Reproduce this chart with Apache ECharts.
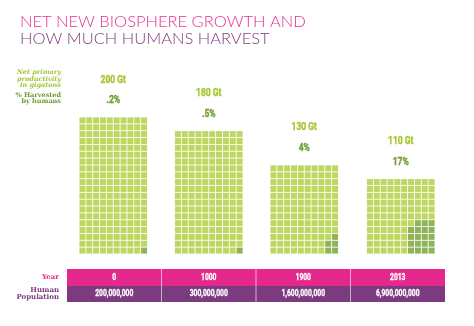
<!DOCTYPE html>
<html>
<head>
<meta charset="utf-8">
<script src="https://cdn.jsdelivr.net/npm/echarts@6/dist/echarts.min.js"></script>
<style>
html,body{margin:0;padding:0;background:#fff;}
#chart{width:474px;height:326px;}
</style>
</head>
<body>
<div id="chart"></div>
<script>
// ---- data ----
const periods = ['0', '1000', '1900', '2013'];
const nppGt = [200, 180, 130, 110];               // net primary productivity, gigatons
const nppLabels = ['200 Gt', '180 Gt', '130 Gt', '110 Gt'];
const harvestedPct = [0.2, 0.5, 4, 17];           // % harvested by humans
const pctLabels = ['.2%', '.5%', '4%', '17%'];
const population = ['200,000,000', '300,000,000', '1,600,000,000', '6,900,000,000'];
const titleLines = ['NET NEW BIOSPHERE GROWTH AND', 'HOW MUCH HUMANS HARVEST'];

// ---- style / layout ----
const LIGHT = '#aecd3a', DARK = '#72a030';
const MAGENTA = '#e5288b', PURPLE = '#7c3a80';
const COLS = 10;                 // cells per row (1 cell = 1 Gt)
const gridLefts = [79, 174.5, 270, 366.5];
const gridTop = 117, gridH = 137, gridW = 68.5;
const maxRows = Math.max(...nppGt) / COLS;
const NUMFONT = "Roboto, 'DejaVu Sans', sans-serif";

const grids = [], xAxes = [], yAxes = [], series = [];
nppGt.forEach((total, i) => {
  grids.push({left: gridLefts[i], top: gridTop, width: gridW, height: gridH});
  xAxes.push({type: 'value', gridIndex: i, min: 0, max: COLS, show: false});
  yAxes.push({type: 'value', gridIndex: i, min: 0, max: maxRows, show: false});
  const rows = total / COLS;
  const dark = Math.max(1, Math.round(total * harvestedPct[i] / 100));
  const dw = Math.max(1, Math.round(Math.sqrt(dark)));
  // dark cells fill from the bottom-right corner, dw columns wide
  const darkSet = new Set();
  for (let k = 0; k < dark; k++) {
    const r = Math.floor(k / dw), c = COLS - 1 - (k % dw);
    darkSet.add(r + '_' + c);
  }
  const lightData = [], darkData = [];
  for (let r = 0; r < rows; r++) {
    for (let c = 0; c < COLS; c++) {
      const p = [c + 0.5, r + 0.5];
      (darkSet.has(r + '_' + c) ? darkData : lightData).push(p);
    }
  }
  series.push({type: 'scatter', xAxisIndex: i, yAxisIndex: i, symbol: 'rect', symbolSize: 6,
    itemStyle: {color: LIGHT}, data: lightData, silent: true});
  series.push({type: 'scatter', xAxisIndex: i, yAxisIndex: i, symbol: 'rect', symbolSize: 6,
    itemStyle: {color: DARK}, data: darkData, silent: true});
});

// ---- table ----
const tabL = 67, tabR = 445, yearTop = 269, yearH = 17, popH = 16;
const colW = (tabR - tabL) / periods.length;
const graphics = [
  {type: 'rect', shape: {x: tabL, y: yearTop, width: tabR - tabL, height: yearH}, style: {fill: MAGENTA}},
  {type: 'rect', shape: {x: tabL, y: yearTop + yearH, width: tabR - tabL, height: popH}, style: {fill: PURPLE}}
];
for (let i = 1; i < periods.length; i++) {
  graphics.push({type: 'line', shape: {x1: tabL + colW * i, y1: yearTop, x2: tabL + colW * i, y2: yearTop + yearH + popH},
    style: {stroke: 'rgba(255,255,255,0.6)', lineWidth: 1}});
}
periods.forEach((p, i) => {
  const cx = tabL + colW * (i + 0.5);
  graphics.push({type: 'text', x: cx, y: yearTop + yearH / 2 + 0.5, scaleX: 0.75, style: {text: p, fill: '#fff',
    stroke: '#fff', lineWidth: 0.3, font: 'bold 9px ' + NUMFONT, textAlign: 'center', textVerticalAlign: 'middle'}});
  graphics.push({type: 'text', x: cx, y: yearTop + yearH + popH / 2, scaleX: 0.75, style: {text: population[i], fill: '#fff',
    stroke: '#fff', lineWidth: 0.3, font: 'bold 9px ' + NUMFONT, textAlign: 'center', textVerticalAlign: 'middle'}});
});
// row labels
graphics.push({type: 'text', x: 59, y: yearTop + yearH / 2, style: {text: 'Year', fill: MAGENTA,
  font: 'bold 7px "DejaVu Serif",serif', textAlign: 'right', textVerticalAlign: 'middle'}});
graphics.push({type: 'text', x: 59, y: yearTop + yearH + popH / 2, style: {text: 'Human\nPopulation', fill: PURPLE,
  font: 'bold 7px "DejaVu Serif",serif', textAlign: 'right', textVerticalAlign: 'middle', lineHeight: 7}});
// side labels
graphics.push({type: 'text', x: 61, y: 79, style: {text: 'Net primary\nproductivity\nin gigatons', fill: '#a3c33a',
  font: 'italic bold 6.5px "DejaVu Serif",serif', textAlign: 'right', textVerticalAlign: 'middle', lineHeight: 6.3}});
graphics.push({type: 'text', x: 61, y: 98, style: {text: '% Harvested\nby humans', fill: '#6f9a30',
  font: 'bold 6.5px "DejaVu Serif",serif', textAlign: 'right', textVerticalAlign: 'middle', lineHeight: 6.3}});

const chart = echarts.init(document.getElementById('chart'), null, {renderer: 'canvas'});
chart.setOption({
  animation: false,
  backgroundColor: '#fff',
  title: [
    {text: titleLines[0], left: 20, top: 13, padding: 0,
      textStyle: {color: '#e2328e', fontSize: 16.5, fontWeight: 300, fontFamily: 'Lato'}},
    {text: titleLines[1], left: 20, top: 30, padding: 0,
      textStyle: {color: '#7a3d7c', fontSize: 16.5, fontWeight: 300, fontFamily: 'Lato'}}
  ],
  grid: grids, xAxis: xAxes, yAxis: yAxes, series: series,
  graphic: graphics
});

// value labels above each block, placed through each grid's own scales
const labelGraphics = [];
nppGt.forEach((total, i) => {
  const top = chart.convertToPixel({gridIndex: i}, [COLS / 2, total / COLS]);
  labelGraphics.push({type: 'text', x: top[0], y: top[1] - 37, scaleX: 0.85, style: {text: nppLabels[i], fill: '#a6c73a',
    stroke: '#a6c73a', lineWidth: 0.4, font: 'bold 10px ' + NUMFONT, textAlign: 'center', textVerticalAlign: 'middle'}});
  labelGraphics.push({type: 'text', x: top[0], y: top[1] - 16.5, scaleX: 0.85, style: {text: pctLabels[i], fill: '#72a032',
    stroke: '#72a032', lineWidth: 0.4, font: 'bold 10px ' + NUMFONT, textAlign: 'center', textVerticalAlign: 'middle'}});
});
chart.setOption({graphic: graphics.concat(labelGraphics)});
</script>
</body>
</html>
